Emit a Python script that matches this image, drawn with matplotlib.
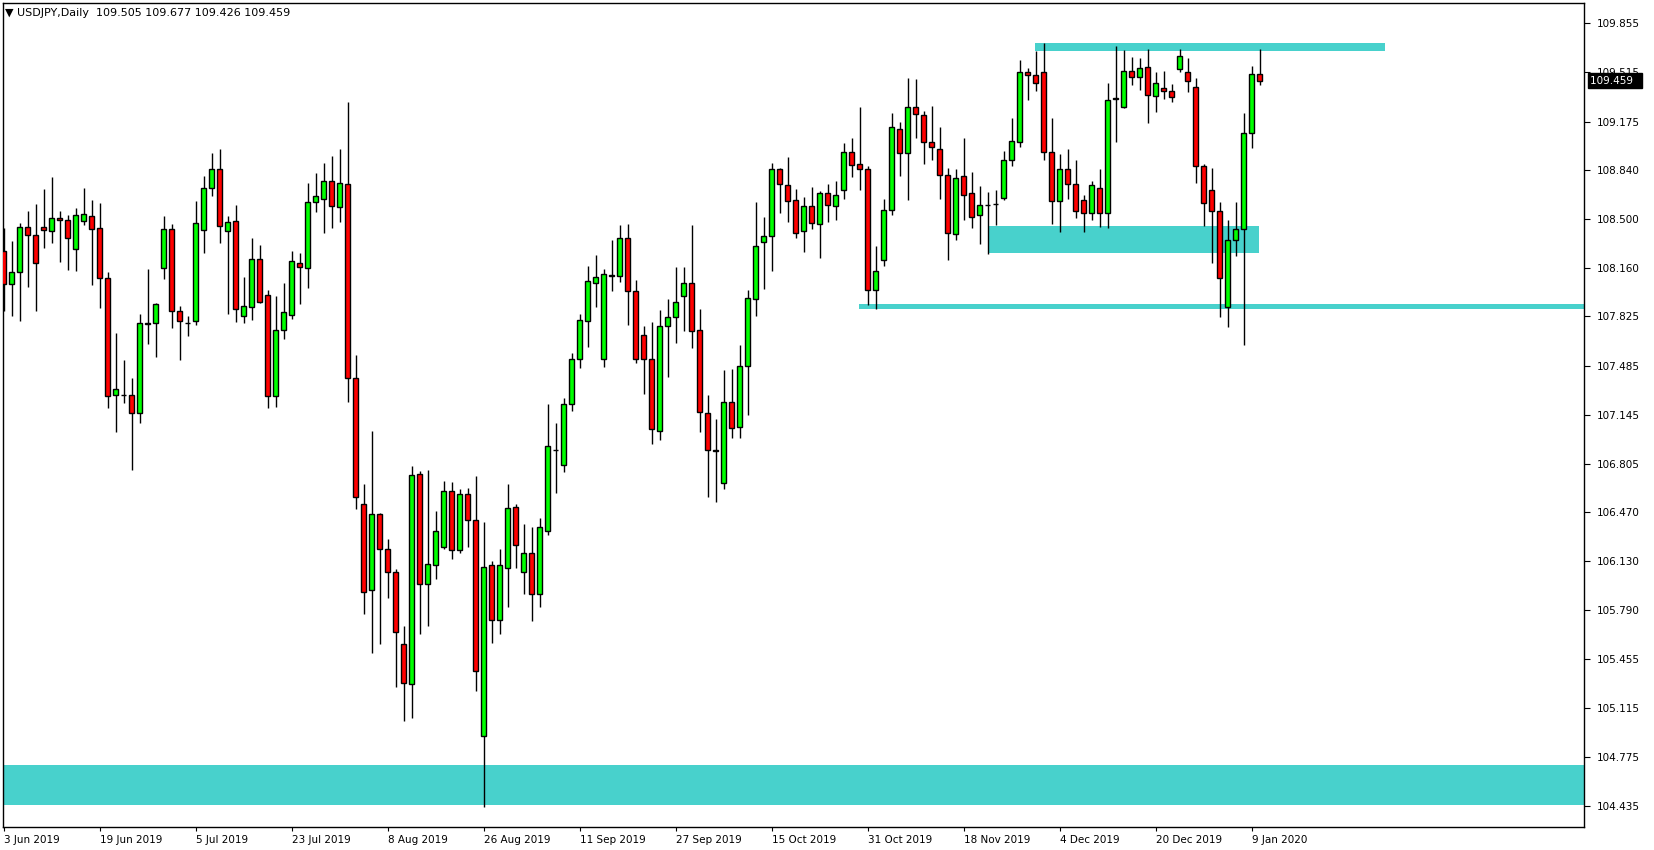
import matplotlib.pyplot as plt
from matplotlib.patches import Rectangle
from matplotlib.transforms import blended_transform_factory

# USDJPY daily, 3 Jun 2019 .. 10 Jan 2020 (one bar per trading day)
opens = [108.278, 108.047, 108.130, 108.442, 108.387, 108.442, 108.414, 108.504, 108.490, 108.290,
         108.484, 108.518, 108.435, 108.089, 107.278, 107.284, 107.278, 107.154, 107.778, 107.777,
         108.158, 108.428, 107.860, 107.783, 107.791, 108.423, 108.712, 108.844, 108.414, 108.483,
         107.826, 107.892, 108.221, 107.972, 107.271, 107.728, 107.838, 108.194, 108.163, 108.621,
         108.637, 108.766, 108.580, 108.739, 107.397, 106.523, 105.928, 106.454, 106.212, 106.053,
         105.554, 105.277, 106.731, 105.969, 106.101, 106.226, 106.614, 106.205, 106.593, 106.413,
         104.917, 106.101, 105.720, 106.080, 106.503, 106.053, 106.184, 105.900, 106.336, 106.902,
         106.794, 107.216, 107.528, 107.791, 108.054, 107.528, 108.115, 108.103, 108.366, 107.999,
         107.695, 107.528, 107.030, 107.757, 107.819, 107.965, 108.055, 107.729, 107.154, 106.897,
         106.670, 107.231, 107.060, 107.480, 107.943, 108.338, 108.380, 108.844, 108.733, 108.629,
         108.414, 108.587, 108.463, 108.677, 108.587, 108.698, 108.962, 108.878, 108.844, 108.006,
         108.214, 108.560, 109.121, 108.955, 109.273, 109.218, 109.031, 108.982, 108.802, 108.394,
         108.795, 108.678, 108.530, 108.600, 108.607, 108.643, 108.906, 109.031, 109.515, 109.495,
         109.515, 108.961, 108.622, 108.844, 108.740, 108.629, 108.539, 108.712, 108.539, 109.336,
         109.273, 109.522, 109.481, 109.550, 109.349, 109.405, 109.384, 109.536, 109.515, 109.412,
         108.864, 108.698, 108.553, 107.888, 108.352, 108.428, 109.093, 109.505]
highs = [108.435, 108.347, 108.470, 108.555, 108.604, 108.707, 108.791, 108.553, 108.527, 108.574,
         108.714, 108.631, 108.610, 108.130, 107.708, 107.521, 107.396, 107.842, 108.153, 107.918,
         108.518, 108.463, 107.895, 107.828, 108.624, 108.797, 108.957, 108.984, 108.518, 108.594,
         108.098, 108.369, 108.320, 108.005, 107.966, 108.057, 108.278, 108.265, 108.749, 108.818,
         108.886, 108.936, 108.988, 109.311, 107.558, 106.664, 107.030, 106.463, 106.283, 106.073,
         105.681, 106.789, 106.752, 106.761, 106.477, 106.685, 106.678, 106.630, 106.634, 106.720,
         106.401, 106.131, 106.214, 106.664, 106.526, 106.387, 106.366, 106.429, 107.218, 107.087,
         107.260, 107.571, 107.842, 108.174, 108.250, 108.154, 108.355, 108.459, 108.466, 108.078,
         107.759, 107.787, 107.870, 107.946, 108.168, 108.168, 108.459, 107.877, 107.281, 107.115,
         107.454, 107.460, 107.630, 108.008, 108.617, 108.513, 108.885, 108.851, 108.927, 108.705,
         108.650, 108.719, 108.691, 108.740, 108.760, 109.024, 109.059, 109.273, 108.865, 108.311,
         108.636, 109.232, 109.169, 109.476, 109.469, 109.246, 109.280, 109.135, 108.851, 108.844,
         109.059, 108.825, 108.728, 108.687, 108.701, 108.971, 109.199, 109.601, 109.545, 109.663,
         109.719, 109.199, 108.948, 108.982, 108.906, 108.664, 108.761, 108.844, 109.439, 109.698,
         109.670, 109.622, 109.615, 109.677, 109.518, 109.525, 109.432, 109.677, 109.615, 109.474,
         108.878, 108.851, 108.615, 108.491, 108.615, 109.232, 109.557, 109.677]
lows = [107.865, 107.830, 107.796, 108.031, 107.865, 108.301, 108.336, 108.204, 108.149, 108.142,
        108.456, 108.045, 107.886, 107.193, 107.027, 107.228, 106.761, 107.085, 107.632, 107.546,
        108.086, 107.747, 107.521, 107.692, 107.766, 108.266, 108.661, 108.336, 107.844, 107.789,
        107.782, 107.802, 107.920, 107.194, 107.200, 107.671, 107.810, 107.914, 108.024, 108.550,
        108.404, 108.440, 108.476, 107.235, 106.490, 105.766, 105.496, 105.559, 105.877, 105.256,
        105.025, 105.046, 105.628, 105.683, 106.009, 106.216, 106.147, 106.189, 106.230, 105.233,
        104.430, 105.565, 105.628, 105.810, 106.085, 105.900, 105.718, 105.810, 106.309, 106.604,
        106.745, 107.167, 107.470, 107.615, 107.888, 107.478, 108.004, 108.066, 107.768, 107.505,
        107.291, 106.944, 106.972, 107.408, 107.639, 107.727, 107.609, 107.027, 106.577, 106.543,
        106.633, 106.980, 106.980, 107.140, 107.830, 108.017, 108.142, 108.543, 108.481, 108.370,
        108.273, 108.428, 108.232, 108.481, 108.495, 108.640, 108.793, 108.703, 107.907, 107.874,
        108.177, 108.530, 108.800, 108.634, 109.063, 108.883, 108.911, 108.641, 108.218, 108.357,
        108.495, 108.440, 108.329, 108.260, 108.461, 108.634, 108.864, 108.996, 109.322, 109.384,
        108.911, 108.467, 108.412, 108.641, 108.509, 108.412, 108.495, 108.447, 108.440, 109.035,
        109.266, 109.428, 109.391, 109.167, 109.243, 109.328, 109.312, 109.515, 109.377, 108.751,
        108.454, 108.197, 107.823, 107.754, 108.246, 107.629, 108.994, 109.426]
closes = [108.047, 108.130, 108.442, 108.387, 108.193, 108.421, 108.504, 108.490, 108.366, 108.525,
          108.532, 108.428, 108.089, 107.276, 107.320, 107.282, 107.154, 107.777, 107.776, 107.909,
          108.428, 107.860, 107.791, 107.781, 108.470, 108.712, 108.844, 108.449, 108.477, 107.874,
          107.895, 108.221, 107.928, 107.271, 107.728, 107.854, 108.207, 108.166, 108.615, 108.656,
          108.766, 108.588, 108.752, 107.397, 106.572, 105.920, 106.454, 106.212, 106.053, 105.637,
          105.284, 106.724, 105.969, 106.108, 106.336, 106.614, 106.205, 106.593, 106.417, 105.367,
          106.087, 105.720, 106.101, 106.496, 106.239, 106.184, 105.900, 106.364, 106.925, 106.898,
          107.216, 107.528, 107.798, 108.068, 108.095, 108.116, 108.103, 108.366, 107.999, 107.528,
          107.528, 107.044, 107.757, 107.819, 107.923, 108.055, 107.722, 107.161, 106.898, 106.895,
          107.231, 107.055, 107.480, 107.950, 108.310, 108.380, 108.844, 108.740, 108.622, 108.400,
          108.587, 108.470, 108.677, 108.594, 108.664, 108.961, 108.872, 108.844, 108.006, 108.137,
          108.560, 109.135, 108.955, 109.273, 109.225, 109.031, 108.996, 108.802, 108.401, 108.782,
          108.664, 108.516, 108.594, 108.598, 108.605, 108.906, 109.038, 109.515, 109.495, 109.439,
          108.961, 108.622, 108.844, 108.740, 108.553, 108.539, 108.733, 108.539, 109.322, 109.334,
          109.522, 109.481, 109.543, 109.356, 109.439, 109.384, 109.342, 109.626, 109.453, 108.864,
          108.608, 108.553, 108.089, 108.352, 108.428, 109.093, 109.502, 109.459]

date_labels = ["3 Jun 2019", "19 Jun 2019", "5 Jul 2019", "23 Jul 2019", "8 Aug 2019",
               "26 Aug 2019", "11 Sep 2019", "27 Sep 2019", "15 Oct 2019", "31 Oct 2019",
               "18 Nov 2019", "4 Dec 2019", "20 Dec 2019", "9 Jan 2020"]
bars_per_label = 12

price_ticks = [109.855, 109.515, 109.175, 108.840, 108.500, 108.160, 107.825, 107.485, 107.145,
               106.805, 106.470, 106.130, 105.790, 105.455, 105.115, 104.775, 104.435]

# drawn zones: (first bar, last bar, low price, high price)
zone_top = (128.9, 172.7, 109.665, 109.719)
zone_mid = (123.0, 156.9, 108.266, 108.451)
support_line = (106.9, 230.0, 107.880, 107.911)
zone_bottom = (-5.0, 230.0, 104.442, 104.719)

zone_color = "#48D1CC"
up_color = "#00FF00"
down_color = "#FF0000"

fig = plt.figure(figsize=(16.54, 8.5), dpi=100)
ax = fig.add_axes([2.5 / 1654, 23 / 850, (1584 - 2.5) / 1654, (847 - 23) / 850])

for x0, x1, lo, hi in [zone_top, zone_mid, support_line, zone_bottom]:
    ax.add_patch(Rectangle((x0, lo), x1 - x0, hi - lo, facecolor=zone_color,
                           edgecolor="none", zorder=1))

body_w = 0.56
for i in range(len(opens)):
    o, h, l, c = opens[i], highs[i], lows[i], closes[i]
    ax.vlines(i, l, h, color="black", lw=1.0, zorder=2)
    color = up_color if c >= o else down_color
    ax.add_patch(Rectangle((i - body_w / 2, min(o, c)), body_w, abs(c - o),
                           facecolor=color, edgecolor="black", lw=1.0, zorder=3))

ax.set_xlim(-0.125, 197.56)
ax.set_ylim(104.289, 109.996)

ax.yaxis.tick_right()
ax.set_yticks(price_ticks)
ax.set_yticklabels([f"{p:.3f}" for p in price_ticks], fontsize=7.5)
ax.set_xticks(range(0, bars_per_label * len(date_labels), bars_per_label))
ax.set_xticklabels(date_labels, fontsize=7.5, ha="left")
ax.tick_params(axis="y", direction="out", length=4, width=0.8, pad=5)
ax.tick_params(axis="x", direction="out", length=3, width=0.8, pad=3)
for s in ax.spines.values():
    s.set_linewidth(1.0)
    s.set_color("black")

# current price marker
trans = blended_transform_factory(ax.transAxes, ax.transData)
ax.text(1.004, closes[-1], f"{closes[-1]:.3f}  ", transform=trans, ha="left", va="center",
        fontsize=7.5, color="white", zorder=10, clip_on=False,
        bbox=dict(boxstyle="square,pad=0.2", facecolor="black", edgecolor="black"))

header = "\u25BC USDJPY,Daily  {:.3f} {:.3f} {:.3f} {:.3f}".format(
    opens[-1], highs[-1], lows[-1], closes[-1])
fig.text(5 / 1654, 1 - 13 / 850, header, fontsize=8, va="center", ha="left")

fig.savefig("out.png", dpi=100)
